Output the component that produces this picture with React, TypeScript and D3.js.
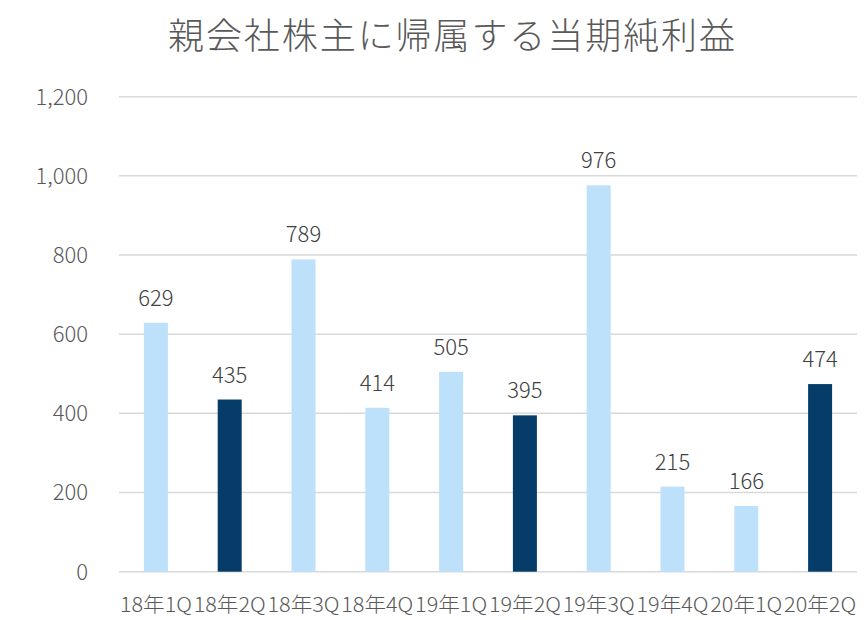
import React from "react";
import * as d3 from "d3";

const categories = ["18年1Q", "18年2Q", "18年3Q", "18年4Q", "19年1Q", "19年2Q", "19年3Q", "19年4Q", "20年1Q", "20年2Q"];
const values = [629, 435, 789, 414, 505, 395, 976, 215, 166, 474];
const highlighted = ["18年2Q", "19年2Q", "20年2Q"];
const yTicks = [0, 200, 400, 600, 800, 1000, 1200];
const title = "親会社株主に帰属する当期純利益";

const W = 864;
const H = 620;
const left = 119;
const right = 857;
const top = 96.7;
const bottom = 571.7;
const FONT = "'Noto Sans CJK JP', 'Noto Sans', sans-serif";

export default function App() {
  const x = d3.scaleBand<string>().domain(categories).range([left, right]).paddingInner(0.675).paddingOuter(0.3375);
  const y = d3.scaleLinear().domain([0, 1200]).range([bottom, top]);
  const fmt = d3.format(",");
  const bw = 24;
  return (
    <svg width={W} height={H} style={{ position: "absolute", left: 0, top: 0, background: "#fff" }} fontFamily={FONT}>
      <text x={451.5} y={49} textAnchor="middle" fontSize={36} fontWeight={300} fill="#595959" textLength={567} lengthAdjust="spacing">
        {title}
      </text>
      {yTicks.map((t) => (
        <g key={t}>
          <line x1={left} x2={right} y1={y(t)} y2={y(t)} stroke="#D9D9D9" strokeWidth={1.5} />
          <text x={88} y={y(t)} dy="0.36em" textAnchor="end" fontSize={22} fontWeight={300} fill="#595959">
            {fmt(t)}
          </text>
        </g>
      ))}
      {categories.map((c, i) => {
        const cx = (x(c) as number) + x.bandwidth() / 2;
        const v = values[i];
        return (
          <g key={c}>
            <rect x={cx - bw / 2} y={y(v)} width={bw} height={y(0) - y(v)} fill={highlighted.includes(c) ? "#053D68" : "#BDE0FB"} />
            <text x={cx} y={y(v) - 17} textAnchor="middle" fontSize={22} fontWeight={300} fill="#404040">
              {v}
            </text>
            <text x={cx} y={612} textAnchor="middle" fontSize={20} fontWeight={300} fill="#595959" textLength={72} lengthAdjust="spacingAndGlyphs">
              {c}
            </text>
          </g>
        );
      })}
    </svg>
  );
}
